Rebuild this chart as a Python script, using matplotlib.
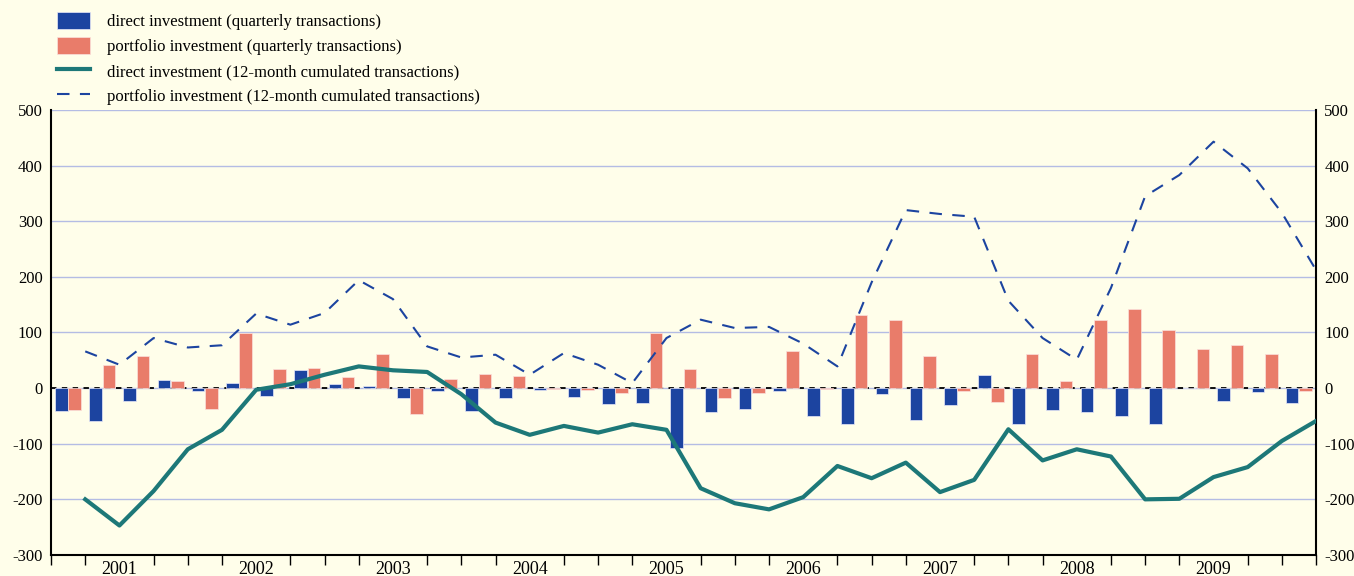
import numpy as np
import matplotlib
matplotlib.use("Agg")
import matplotlib.pyplot as plt

# quarters 2000Q4 .. 2009Q4 (bars), 12-month sums plotted at quarter ends
direct_q = [-42, -60, -24, 15, -6, 10, -14, 33, 8, 4, -18, -5, -42, -17, -3, -16,
            -28, -26, -108, -43, -38, -5, -51, -65, -11, -57, -30, 24, -65, -39,
            -43, -51, -64, 0, -24, -7, -27]
portfolio_q = [-40, 41, 57, 13, -37, 99, 35, 37, 20, 61, -47, 17, 25, 22, -2, -3,
               -8, 99, 35, -18, -8, 67, -1, 131, 122, 58, -6, -25, 62, 13, 123,
               142, 105, 70, 77, 62, -5]
direct_12m = [-200, -247, -185, -110, -75, -3, 7, 24, 39, 32, 29, -11, -62, -84,
              -68, -80, -65, -75, -180, -207, -218, -196, -140, -162, -134, -187,
              -165, -74, -130, -110, -123, -200, -199, -160, -142, -95, -59]
portfolio_12m = [66, 42, 90, 73, 77, 134, 114, 135, 194, 160, 75, 55, 60, 24, 63,
                 42, 9, 90, 123, 108, 110, 80, 39, 190, 320, 313, 308, 157, 90, 51,
                 180, 345, 383, 443, 395, 315, 212]
years = ["2001", "2002", "2003", "2004", "2005", "2006", "2007", "2008", "2009"]

plt.rcParams["font.family"] = ["Liberation Serif", "DejaVu Serif"]
plt.rcParams["axes.unicode_minus"] = False
bg = "#fffeea"

fig = plt.figure(figsize=(13.54, 5.76), dpi=100, facecolor=bg)
ax = fig.add_axes([0.0377, 0.0365, 0.9343, 0.7726], facecolor=bg)

n = len(direct_q)
idx = np.arange(n)
ax.axhline(0, color="black", lw=1.3, ls=(0, (3, 3)), zorder=1)
b1 = ax.bar(idx + 0.3, direct_q, width=0.37, color="#1c44a0", edgecolor="#e8e8f8",
            linewidth=0.5, zorder=2)
b2 = ax.bar(idx + 0.69, portfolio_q, width=0.37, color="#e97c6a", edgecolor="#fbe0dc",
            linewidth=0.5, zorder=2)
ticks_line = np.arange(1, n + 1)
l1, = ax.plot(ticks_line, direct_12m, color="#1d7878", lw=3, zorder=3)
l2, = ax.plot(ticks_line, portfolio_12m, color="#1c44a0", lw=1.5, ls=(0, (6, 5)), zorder=3)

ax.set_xlim(0, n)
ax.set_ylim(-300, 500)
ax.set_yticks(np.arange(-300, 501, 100))
ax.yaxis.grid(True, color="#b4bce4", lw=1)
ax.set_axisbelow(True)
ax.tick_params(axis="y", length=0, labelsize=12, pad=6, labelright=True)

ax.set_xticks(np.arange(2, 35, 4), minor=False)
ax.set_xticks(np.arange(0, n + 1), minor=True)
ax.set_xticklabels(years)
ax.tick_params(axis="x", which="major", length=0, labelsize=13, pad=4)
ax.tick_params(axis="x", which="minor", length=7, width=1, direction="out")

for s in ["left", "right", "bottom"]:
    ax.spines[s].set_linewidth(1.5)
ax.spines["top"].set_visible(False)

fig.legend([b1, b2, l1, l2],
           ["direct investment (quarterly transactions)",
            "portfolio investment (quarterly transactions)",
            "direct investment (12-month cumulated transactions)",
            "portfolio investment (12-month cumulated transactions)"],
           loc="upper left", bbox_to_anchor=(0.031, 1.005), frameon=False,
           fontsize=12, handlelength=2.0, handleheight=1.15, handletextpad=1.0,
           labelspacing=0.43)

fig.savefig("out.png", dpi=100, facecolor=bg)
